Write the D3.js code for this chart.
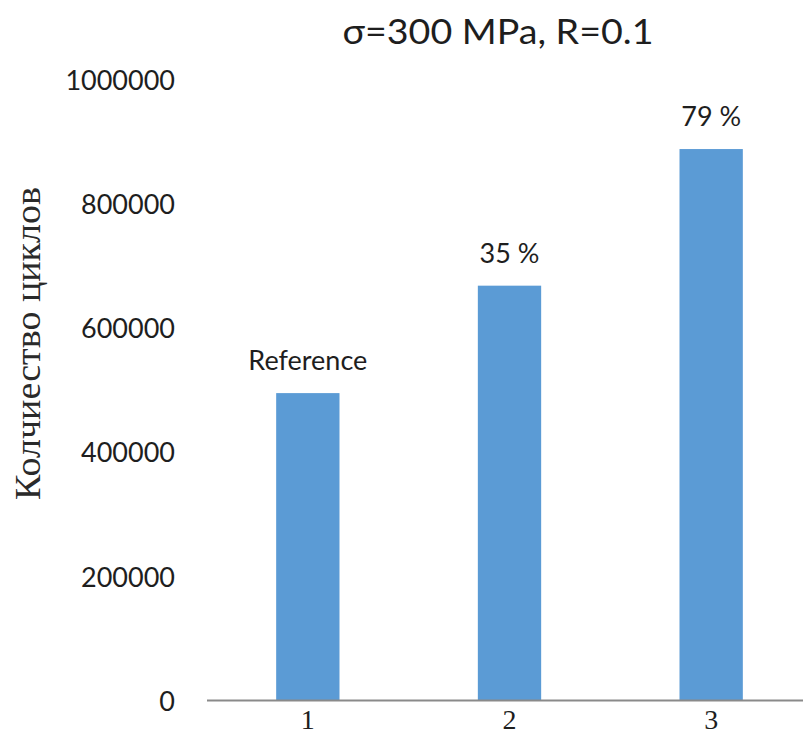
<!DOCTYPE html>
<html>
<head>
<meta charset="utf-8">
<script src="https://cdn.jsdelivr.net/npm/d3@7"></script>
<style>
  html, body { margin: 0; padding: 0; background: #fff; overflow: hidden; }
  svg { display: block; }
</style>
</head>
<body>
<script>
// Fatigue life per specimen group
const categories = ["1", "2", "3"];
const cycles = [495000, 668000, 888000];
const barLabels = ["Reference", "35 %", "79 %"];
const yTicks = [0, 200000, 400000, 600000, 800000, 1000000];
const title = "σ=300 MPa, R=0.1";
const yTitle = "Колчиество циклов";

const W = 803, H = 734;
const svg = d3.select("body").append("svg").attr("width", W).attr("height", H);

const y = d3.scaleLinear().domain([0, 1000000]).range([700.5, 79.5]);
const x = d3.scaleBand().domain(categories).range([207, 812])
  .paddingInner(0.686).paddingOuter(0.343);

const sans = "Lato, 'Open Sans', sans-serif";
const serif = "'Liberation Serif', 'DejaVu Serif', serif";
const ink = "#1e1e1e";

// title
svg.append("text")
  .attr("x", 498).attr("y", 44)
  .attr("text-anchor", "middle")
  .style("font-family", sans).style("font-size", "34px").attr("fill", ink)
  .attr("textLength", 311).attr("lengthAdjust", "spacingAndGlyphs")
  .text(title);

// y axis (labels only)
const yAxis = d3.axisLeft(y).tickValues(yTicks).tickSize(0).tickPadding(0)
  .tickFormat(d3.format("d"));
const gy = svg.append("g").attr("transform", "translate(175,0)").call(yAxis);
gy.select(".domain").remove();
gy.selectAll("text")
  .style("font-family", sans).style("font-size", "27px").attr("fill", ink)
  .attr("dy", "0.36em");

// bars
svg.append("g").selectAll("rect")
  .data(categories)
  .join("rect")
  .attr("x", d => x(d))
  .attr("width", x.bandwidth())
  .attr("y", (d, i) => y(cycles[i]))
  .attr("height", (d, i) => y(0) - y(cycles[i]))
  .attr("fill", "#5b9bd5");

// bar value labels
svg.append("g").selectAll("text")
  .data(categories)
  .join("text")
  .attr("x", d => x(d) + x.bandwidth() / 2)
  .attr("y", (d, i) => y(cycles[i]) - 23)
  .attr("text-anchor", "middle")
  .style("font-family", sans).style("font-size", "27px").attr("fill", ink)
  .text((d, i) => barLabels[i]);

// x axis
const xAxis = d3.axisBottom(x).tickSize(0).tickPadding(0);
const gx = svg.append("g").attr("transform", `translate(0,${y(0)})`).call(xAxis);
gx.select(".domain").attr("stroke", "#8a8a8a").attr("stroke-width", 2)
  .attr("d", `M207,0H${W + 10}`);
gx.selectAll("text")
  .style("font-family", serif).style("font-size", "28px").attr("fill", ink)
  .attr("dy", 0).attr("y", 28.5);

// y axis title
svg.append("text")
  .attr("transform", "translate(40,343.5) rotate(-90)")
  .attr("text-anchor", "middle")
  .style("font-family", serif).style("font-size", "35px").attr("fill", "#2a2a2a")
  .attr("textLength", 313).attr("lengthAdjust", "spacingAndGlyphs")
  .text(yTitle);
</script>
</body>
</html>
